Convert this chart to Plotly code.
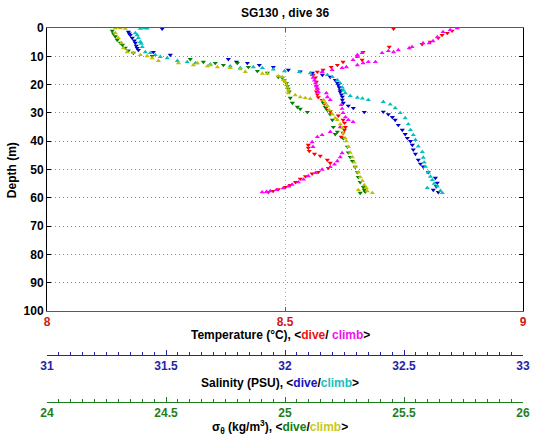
import plotly.graph_objects as go

# ---------------- data ----------------
# Temperature, dive (deg C) vs depth (m)
temp_dive_depth = [0.3, 1.0, 1.8, 2.5, 3.5, 4.9, 5.7, 6.7, 8.5, 11.3, 12.0, 13.1, 13.8, 14.8, 15.5,
                   16.6, 17.5, 19.0, 20.5, 21.5, 22.5, 23.5, 24.5, 25.5, 26.8, 28.0, 29.5, 31.0,
                   32.5, 33.5, 35.0, 36.0, 37.1, 38.5, 41.3, 42.4, 43.5, 44.5, 45.2, 46.6, 47.7,
                   49.5, 50.9, 51.5, 52.4, 53.3, 54.5, 55.5, 56.2, 57.0, 57.6, 58.0]
temp_dive = [8.728, 8.851, 8.841, 8.830, 8.822, 8.805, 8.788, 8.719, 8.664, 8.662, 8.622, 8.610,
             8.597, 8.580, 8.568, 8.559, 8.564, 8.566, 8.566, 8.568, 8.566, 8.568, 8.570, 8.578,
             8.583, 8.587, 8.595, 8.612, 8.622, 8.625, 8.627, 8.625, 8.622, 8.618, 8.549, 8.549,
             8.551, 8.562, 8.574, 8.589, 8.595, 8.591, 8.570, 8.557, 8.543, 8.532, 8.522, 8.511,
             8.501, 8.486, 8.475, 8.465]

# Temperature, climb
temp_climb_depth = [58.0, 57.9, 57.6, 57.2, 56.6, 56.0, 55.3, 54.5, 53.5, 52.3, 51.2, 50.0, 49.1,
                    48.2, 47.0, 45.6, 44.2, 42.0, 40.3, 38.5, 37.8, 36.7, 35.0, 33.2, 32.5, 31.5,
                    30.0, 28.5, 27.2, 25.4, 24.4, 23.0, 22.6, 21.5, 20.5, 19.5, 18.5, 17.5, 16.6,
                    15.5, 14.8, 14.1, 13.8, 13.1, 12.4, 12.0, 12.0, 11.3, 10.2, 9.5, 8.8, 8.8,
                    8.1, 8.5, 7.8, 7.1, 6.7, 5.3, 5.3, 4.6, 3.2, 1.4, 0.7, 0.0]
temp_climb = [8.452, 8.461, 8.469, 8.482, 8.496, 8.507, 8.515, 8.528, 8.539, 8.549, 8.564, 8.578,
              8.595, 8.604, 8.610, 8.616, 8.620, 8.559, 8.557, 8.568, 8.578, 8.595, 8.616, 8.643,
              8.633, 8.627, 8.622, 8.620, 8.618, 8.595, 8.589, 8.587, 8.570, 8.568, 8.566, 8.564,
              8.562, 8.559, 8.557, 8.578, 8.599, 8.620, 8.629, 8.652, 8.664, 8.675, 8.690, 8.643,
              8.652, 8.652, 8.662, 8.704, 8.717, 8.728, 8.738, 8.761, 8.767, 8.790, 8.803, 8.811,
              8.820, 8.832, 8.847, 8.862]

# Salinity, dive (PSU)
sal_dive_depth = [0.3, 1.4, 2.0, 2.5, 3.5, 4.5, 5.3, 6.3, 7.1, 7.8, 8.5, 9.5, 11.0, 12.0, 12.4,
                  13.1, 13.8, 14.8, 15.4, 15.9, 16.6, 17.3, 18.4, 19.4, 20.1, 21.0, 22.0, 22.6,
                  23.5, 24.3, 25.4, 26.5, 27.5, 28.3, 29.7, 29.6, 30.5, 31.5, 32.5, 34.3, 36.0,
                  37.5, 38.9, 40.0, 41.3, 43.0, 44.5, 46.6, 48.0, 49.0, 51.0, 53.0, 54.7, 56.0,
                  57.2, 58.0]
sal_dive = [31.484, 31.342, 31.346, 31.350, 31.358, 31.367, 31.371, 31.375, 31.379, 31.384,
            31.447, 31.518, 31.762, 31.796, 31.842, 31.892, 31.951, 32.014, 32.064, 32.115,
            32.157, 32.190, 32.211, 32.220, 32.224, 32.228, 32.232, 32.232, 32.237, 32.241,
            32.241, 32.245, 32.266, 32.287, 32.333, 32.413, 32.434, 32.451, 32.463, 32.476,
            32.493, 32.505, 32.514, 32.527, 32.535, 32.539, 32.548, 32.560, 32.569, 32.581,
            32.602, 32.632, 32.640, 32.636, 32.623, 32.644]

# Salinity, climb
sal_climb_depth = [58.3, 57.5, 56.5, 56.0, 55.0, 53.7, 52.5, 51.0, 49.0, 47.5, 45.8, 43.8, 41.8,
                   39.5, 37.8, 36.0, 34.0, 31.8, 30.0, 28.3, 27.0, 26.1, 25.4, 24.9, 24.6, 24.0,
                   23.0, 22.0, 21.0, 19.5, 18.4, 17.3, 16.6, 15.9, 15.5, 15.2, 14.6, 14.1, 13.8,
                   14.1, 13.5, 12.8, 12.4, 12.0, 11.6, 10.6, 10.2, 9.5, 8.8, 8.5, 6.7, 5.5, 4.9,
                   3.5, 2.5, 1.8, 0.2, 0.0, 0.1]
sal_climb = [32.661, 32.653, 32.598, 32.640, 32.627, 32.619, 32.611, 32.602, 32.590, 32.585,
             32.581, 32.577, 32.560, 32.548, 32.539, 32.527, 32.518, 32.505, 32.484, 32.463,
             32.442, 32.413, 32.350, 32.325, 32.304, 32.274, 32.253, 32.245, 32.241, 32.232,
             32.220, 32.199, 32.178, 32.106, 32.060, 31.998, 31.951, 31.905, 31.867, 31.812,
             31.770, 31.686, 31.624, 31.589, 31.548, 31.505, 31.476, 31.455, 31.434, 31.413,
             31.400, 31.396, 31.392, 31.384, 31.379, 31.371, 31.392, 31.409, 31.421]

# Sigma-theta, dive (kg/m^3)
sig_dive_depth = [1.0, 2.0, 3.0, 4.2, 5.3, 6.0, 7.0, 8.0, 8.8, 9.9, 11.0, 12.0, 12.4, 13.1, 12.4,
                  13.8, 15.2, 15.9, 17.3, 17.6, 18.5, 19.5, 20.5, 21.5, 22.5, 24.7, 26.5, 27.9,
                  28.6, 29.7, 26.5, 28.0, 29.0, 30.5, 32.5, 35.0, 36.7, 37.5, 39.0, 42.0, 44.0,
                  45.6, 47.0, 49.1, 51.0, 52.7, 54.5, 56.2, 57.2, 57.9, 58.3]
sig_dive = [24.274, 24.279, 24.287, 24.295, 24.308, 24.317, 24.329, 24.342, 24.363, 24.442,
            24.602, 24.657, 24.707, 24.741, 24.800, 24.846, 24.884, 24.926, 24.972, 24.989,
            24.997, 25.006, 25.010, 25.014, 25.018, 25.022, 25.031, 25.052, 25.064, 25.094,
            25.161, 25.169, 25.178, 25.190, 25.199, 25.203, 25.220, 25.211, 25.245, 25.262,
            25.266, 25.274, 25.283, 25.295, 25.304, 25.308, 25.316, 25.329, 25.333, 25.337,
            25.316]

# Sigma-theta, climb
sig_climb_depth = [58.3, 57.6, 57.2, 56.5, 55.5, 54.0, 52.7, 51.0, 49.1, 47.5, 45.6, 44.0, 42.0,
                   40.0, 38.9, 37.1, 35.3, 34.0, 32.5, 31.8, 30.5, 29.0, 27.5, 26.5, 25.4, 25.0,
                   24.7, 24.4, 23.7, 23.0, 22.0, 21.0, 20.0, 19.0, 18.4, 17.3, 17.0, 16.1, 16.1,
                   15.5, 14.5, 14.1, 13.8, 13.1, 13.5, 12.4, 13.1, 12.4, 11.6, 10.6, 9.9, 9.5,
                   8.8, 8.5, 7.1, 5.3, 3.5, 1.8, 0.0, 0.0, 0.2]
sig_climb = [25.367, 25.346, 25.308, 25.342, 25.333, 25.325, 25.316, 25.308, 25.295, 25.291,
             25.283, 25.274, 25.266, 25.258, 25.253, 25.245, 25.241, 25.232, 25.220, 25.211,
             25.199, 25.186, 25.178, 25.169, 25.161, 25.106, 25.085, 25.064, 25.043, 25.014,
             25.014, 25.010, 25.006, 25.001, 24.993, 24.989, 24.972, 24.926, 24.905, 24.833,
             24.812, 24.770, 24.716, 24.686, 24.674, 24.632, 24.615, 24.552, 24.468, 24.442,
             24.421, 24.392, 24.363, 24.337, 24.321, 24.312, 24.300, 24.287, 24.287, 24.308,
             24.329]

temp_ticks = [8, 8.5, 9]
sal_ticks = [31, 31.5, 32, 32.5, 33]
sig_ticks = [24, 24.5, 25, 25.5, 26]

# ---------------- styling ----------------
FONT = "Liberation Sans, Arial, Helvetica, sans-serif"
C_TD, C_TC = "#ff0000", "#ff00ff"
C_SD, C_SC = "#0000c8", "#00bfbf"
C_GD, C_GC = "#007f00", "#bfbf00"
AX_T, AX_T_LINE = "#d01818", "#c03030"
AX_S = "#2424a8"
AX_G = "#1f7f1f"

fig = go.Figure()

def add(xv, yv, color, symbol, xa):
    fig.add_trace(go.Scatter(x=xv, y=yv, mode="markers", xaxis=xa, yaxis="y",
                             marker=dict(symbol=symbol, size=4.5, color=color, line=dict(width=0)),
                             hoverinfo="skip", showlegend=False))

add(temp_dive, temp_dive_depth, C_TD, "triangle-down", "x")
add(temp_climb, temp_climb_depth, C_TC, "triangle-up", "x")
add(sal_dive, sal_dive_depth, C_SD, "triangle-down", "x2")
add(sal_climb, sal_climb_depth, C_SC, "triangle-up", "x2")
add(sig_dive, sig_dive_depth, C_GD, "triangle-down", "x3")
add(sig_climb, sig_climb_depth, C_GC, "triangle-up", "x3")

bold12 = lambda c: dict(family=FONT, size=12, color=c, weight="bold")

fig.update_layout(
    width=535, height=442,
    margin=dict(l=47, r=12, t=28, b=40, autoexpand=False),
    paper_bgcolor="white", plot_bgcolor="white",
    showlegend=False,
    font=dict(family=FONT, size=12, color="black"),
    xaxis=dict(range=[8, 9], domain=[0, 1], anchor="y", tickvals=temp_ticks,
               ticktext=[str(t) for t in temp_ticks], automargin=False,
               ticks="inside", ticklen=4, tickcolor=AX_T_LINE,
               showline=True, linecolor=AX_T_LINE, linewidth=1, mirror="ticks",
               showgrid=True, gridcolor="#c8a0a0", griddash="1px,3px", gridwidth=1,
               zeroline=False, tickfont=bold12(AX_T)),
    yaxis=dict(domain=[0.2433, 1], range=[100, 0], tickvals=list(range(0, 101, 10)),
               automargin=False,
               ticks="inside", ticklen=4, tickcolor="black",
               showline=True, linecolor="black", linewidth=1, mirror="ticks",
               showgrid=True, gridcolor="#8c8c8c", griddash="1px,3px", gridwidth=1,
               zeroline=False, tickfont=bold12("black")),
    xaxis2=dict(overlaying="x", anchor="free", position=0.1257, range=[31, 33],
                tickvals=sal_ticks, ticktext=[str(t) for t in sal_ticks], automargin=False,
                ticks="inside", ticklen=5, tickcolor=AX_S,
                minor=dict(dtick=0.05, tick0=31, ticks="inside", ticklen=3, tickcolor=AX_S, showgrid=False),
                showline=True, linecolor=AX_S, linewidth=1,
                showgrid=False, zeroline=False, tickfont=bold12(AX_S)),
    xaxis3=dict(overlaying="x", anchor="free", position=0.0, range=[24, 26],
                tickvals=sig_ticks, ticktext=[str(t) for t in sig_ticks], automargin=False,
                ticks="inside", ticklen=5, tickcolor=AX_G,
                minor=dict(dtick=0.05, tick0=24, ticks="inside", ticklen=3, tickcolor=AX_G, showgrid=False),
                showline=True, linecolor=AX_G, linewidth=1,
                showgrid=False, zeroline=False, tickfont=bold12(AX_G)),
)

ann = [
    dict(text="<b>SG130 , dive 36</b>", x=0.5, y=1.04, font=dict(family=FONT, size=12, color="black")),
    dict(text="<b>Temperature (°C), &lt;<span style='color:%s'>dive</span>/ <span style='color:%s'>climb</span>&gt;</b>" % ("#ee1111", "#ee11ee"),
         x=0.49, y=0.179, font=dict(family=FONT, size=12, color="black")),
    dict(text="<b>Salinity (PSU), &lt;<span style='color:%s'>dive</span>/<span style='color:%s'>climb</span>&gt;</b>" % ("#1414c0", "#20bcbc"),
         x=0.49, y=0.051, font=dict(family=FONT, size=12, color="black")),
    dict(text="<b>σ<sub>θ</sub> (kg/m<sup>3</sup>), &lt;<span style='color:%s'>dive</span>/<span style='color:%s'>climb</span>&gt;</b>" % ("#128012", "#c8c820"),
         x=0.49, y=-0.067, font=dict(family=FONT, size=12, color="black")),
    dict(text="<b>Depth (m)</b>", x=-0.0735, y=0.62, textangle=-90,
         font=dict(family=FONT, size=12, color="black")),
]
for a in ann:
    a.update(xref="paper", yref="paper", showarrow=False, xanchor="center", yanchor="middle")
fig.update_layout(annotations=ann)

# remove the browser's default 8px body margin so the figure fills the window exactly
fig.write_html("out.html", config={"displayModeBar": False, "staticPlot": True},
               post_script="document.body.style.margin='0';")
